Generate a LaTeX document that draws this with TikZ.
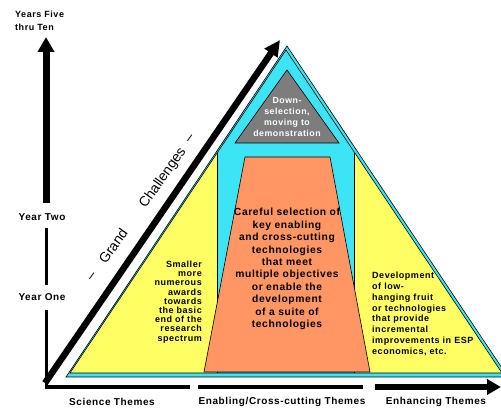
\documentclass[tikz,border=0pt]{standalone}
\usepackage{fontspec}
\setmainfont{Liberation Sans}[LetterSpace=6]
\newfontfamily\plainsans{Liberation Sans}
\usetikzlibrary{arrows.meta}
\definecolor{cy}{RGB}{60,228,245}
\definecolor{yl}{RGB}{255,255,100}
\definecolor{orng}{RGB}{255,150,100}
\definecolor{gry}{RGB}{125,125,125}
\tikzset{
  outl/.style={draw=black,line width=0.6pt},
  lab/.style={inner sep=0pt,font=\bfseries\fontsize{10}{12}\selectfont},
  boxtext/.style={inner sep=0pt,align=center},
  gc/.style={inner sep=0pt,rotate=54.6,font=\plainsans\fontsize{14}{16}\selectfont},
  axthin/.style={line width=3pt},
  axmid/.style={line width=4pt},
  axthick/.style={line width=6.5pt},
}
\begin{document}
\begin{tikzpicture}[x=1pt,y=-1pt]
\useasboundingbox (0,0) rectangle (501,411);
\begin{scope}
\clip (0,0) rectangle (501,411);
% outer cyan triangle
\coordinate (cA) at (287,46);
\coordinate (cL) at (66,377);
\coordinate (cR) at (508,377);
\draw[outl,fill=cy] (cA) -- (cL) -- (cR) -- cycle;
% yellow triangle
\coordinate (yA) at (286,50);
\coordinate (yL) at (70,373);
\coordinate (yR) at (502,373);
\fill[yl] (yA) -- (yL) -- (yR) -- cycle;
\begin{scope}
\clip (yA) -- (yL) -- (yR) -- cycle;
\fill[cy] (217,0) rectangle (354,373);
\draw[line width=0.6pt] (217,0) -- (217,373) (354,0) -- (354,373);
\end{scope}
\draw[outl] (yA) -- (yL) -- (yR) -- cycle;
% gray triangle
\coordinate (gA) at (287,70);
\coordinate (gL) at (235,143);
\coordinate (gR) at (339,143);
\draw[outl,fill=gry] (gA) -- (gL) -- (gR) -- cycle;
% orange trapezoid
\coordinate (o1) at (245,157);
\coordinate (o2) at (330,157);
\coordinate (o3) at (370,372);
\coordinate (o4) at (204,372);
\draw[outl,fill=orng] (o1) -- (o2) -- (o3) -- (o4) -- cycle;
\end{scope}

% texts inside
\node[boxtext,text=white,font=\bfseries\fontsize{8.8}{11.3}\selectfont] (down) at (287,117)
  {Down-\\selection,\\moving to\\demonstration};
\node[boxtext,font=\bfseries\fontsize{10.3}{12.4}\selectfont] (careful) at (287,269)
  {Careful selection of\\key enabling\\and cross-cutting\\technologies\\that meet\\multiple objectives\\or enable the\\development\\of a suite of\\technologies};
\node[inner sep=0pt,align=right,anchor=east,font=\bfseries\fontsize{9}{9.2}\selectfont] (small) at (202,302)
  {Smaller\\more\\numerous\\awards\\towards\\the basic\\end of the\\research\\spectrum};
\node[inner sep=0pt,align=left,anchor=west,font=\bfseries\fontsize{9}{10.8}\selectfont] (devel) at (372,314)
  {Development\\of low-\\hanging fruit\\or technologies\\that provide\\incremental\\improvements in ESP\\economics, etc.};

% diagonal arrow
\coordinate (d0) at (45,383);
\coordinate (d1) at (280,40);
\draw[axthick,-{Triangle[length=16pt,width=15pt]}] (d0) -- (d1);
\node[gc] (dash1) at (93,277) {–};
\node[gc] (grand) at (113,246) {Grand};
\node[gc] (chall) at (163,178) {Challenges};
\node[gc] (dash2) at (191,139) {–};

% vertical axis
\coordinate (v0) at (46,388.5);
\coordinate (v1) at (46,310);
\coordinate (v2) at (46,285);
\coordinate (v3) at (46,228);
\coordinate (v4) at (46,203);
\coordinate (vt) at (46,37);
\draw[axthin] (v0) -- (v1);
\draw[axthin] (v2) -- (v3);
\draw[line width=7pt,-{Triangle[length=15pt,width=16pt]}] (v4) -- (vt);
\node[lab,align=left,anchor=west,font=\bfseries\fontsize{9}{13}\selectfont] (yft) at (15,20.5) {Years Five\\thru Ten};
\node[lab] (ytwo) at (42,217) {Year Two};
\node[lab] (yone) at (42,297) {Year One};

% horizontal axis
\coordinate (h0) at (44.5,387);
\coordinate (h1) at (190,387);
\coordinate (h2) at (198,387);
\coordinate (h3) at (363,387);
\coordinate (h4) at (375,387);
\coordinate (h5) at (501,387);
\draw[line width=3.5pt] (h0) -- (h1);
\draw[axmid] (h2) -- (h3);
\draw[line width=6pt,-{Triangle[length=14pt,width=15pt]}] (h4) -- (h5);
\node[lab] (sci) at (112,402) {Science Themes};
\node[lab] (ena) at (282,402) {Enabling/Cross-cutting Themes};
\node[lab] (enh) at (436,402) {Enhancing Themes};
\end{tikzpicture}
\end{document}
